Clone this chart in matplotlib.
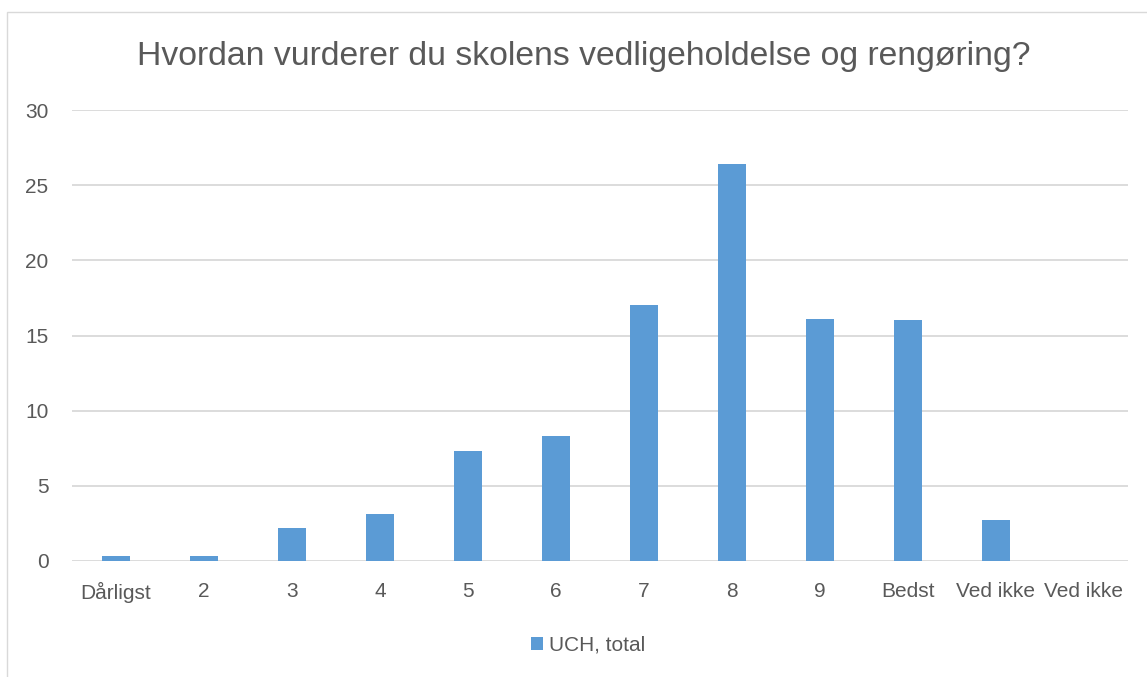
import matplotlib.pyplot as plt
from matplotlib.patches import Rectangle

categories = ["Dårligst", "2", "3", "4", "5", "6", "7", "8", "9", "Bedst", "Ved ikke", "Ved ikke"]
values = [0.3, 0.3, 2.2, 3.1, 7.35, 8.3, 17.05, 26.4, 16.1, 16.0, 2.75, 0.0]
series_name = "UCH, total"
title = "Hvordan vurderer du skolens vedligeholdelse og rengøring?"

BAR_COLOR = "#5B9BD5"
TEXT_COLOR = "#595959"
GRID_COLOR = "#D9D9D9"

plt.rcParams['font.family'] = ['Liberation Sans', 'DejaVu Sans']

W, H = 1147, 677
fig = plt.figure(figsize=(W / 100, H / 100), dpi=100)
ax = fig.add_axes([72 / W, 1 - 561 / H, (1128 - 72) / W, (561 - 110) / H])

# chart border
fig.patches.append(Rectangle((7 / W, -0.01), 1.2, 1 - 12 / H + 0.01, transform=fig.transFigure,
                             fill=False, edgecolor="#D9D9D9", linewidth=1))

x = range(len(categories))
bars = ax.bar(x, values, width=0.31, color=BAR_COLOR, label=series_name, zorder=3)

ax.set_xlim(-0.5, len(categories) - 0.5)
ax.set_ylim(0, 30)
ax.set_yticks(range(0, 31, 5))
ax.yaxis.grid(True, color=GRID_COLOR, linewidth=1.3, zorder=0)
ax.set_xticks(list(x))
ax.set_xticklabels(categories)
ax.tick_params(axis='both', length=0, labelcolor=TEXT_COLOR, labelsize=15)
ax.tick_params(axis='x', pad=15)
ax.tick_params(axis='y', pad=17)
for s in ax.spines.values():
    s.set_visible(False)

fig.text(584 / W, 1 - 57 / H, title, ha='center', va='center', fontsize=24.3, color=TEXT_COLOR)

leg = fig.legend(handles=[bars], labels=[series_name], loc='center', bbox_to_anchor=(588 / W, 1 - 645 / H),
                 frameon=False, fontsize=15, handlelength=0.6, handleheight=0.6, handletextpad=0.3)
for t in leg.get_texts():
    t.set_color(TEXT_COLOR)

fig.savefig("out.png", dpi=100)
